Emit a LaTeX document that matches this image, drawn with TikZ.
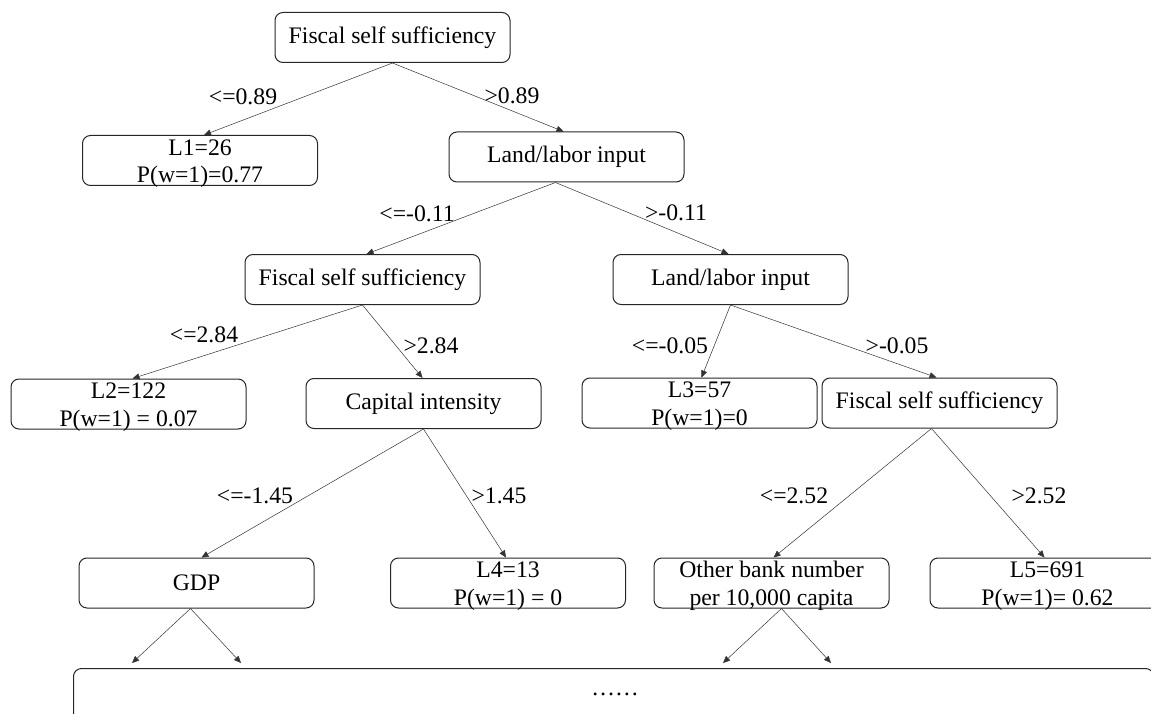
\documentclass[tikz,border=0pt]{standalone}
\usepackage{fontspec}
\setmainfont{Liberation Serif}
\usetikzlibrary{arrows.meta}

\begin{document}
\begin{tikzpicture}[
  x=1pt, y=-1pt,
  font=\fontsize{23.7pt}{28pt}\selectfont,
  >={Triangle[length=7pt,width=6pt]},
  split/.style={draw=black!85, line width=1pt, rounded corners=8pt, minimum width=235pt,
                minimum height=50pt, align=center, inner sep=0pt},
  twoline/.style={text height=47pt, text depth=2pt},
  leaf/.style={split, twoline},
  edge/.style={->, black!80, line width=0.5pt},
  cond/.style={inner sep=0pt},
]
\useasboundingbox (0,0) rectangle (1151,714);
\clip (0,0) rectangle (1151,714);
% split and leaf nodes
\node[split] (root) at (392.5,37.5) {Fiscal self sufficiency};
\node[leaf] (l1) at (200,160.5) {L1=26\\P(w=1)=0.77};
\node[split] (land1) at (566.5,157) {Land/labor input};
\node[split] (fis2) at (362.5,279.5) {Fiscal self sufficiency};
\node[split] (land2) at (730.5,279.5) {Land/labor input};
\node[leaf] (l2) at (128.5,404) {L2=122\\P(w=1) = 0.07};
\node[split] (cap) at (423.5,403.5) {Capital intensity};
\node[leaf] (l3) at (699.5,403) {L3=57\\P(w=1)=0};
\node[split] (fis3) at (939.5,403) {Fiscal self sufficiency};
\node[split] (gdp) at (196.5,583) {GDP};
\node[leaf] (l4) at (508,583) {L4=13\\P(w=1) = 0};
\node[split, twoline] (bank) at (771.5,583) {Other bank number\\per 10,000 capita};
\node[leaf] (l5) at (1047.5,583) {L5=691\\P(w=1)= 0.62};
% remaining subtrees
\node[draw=black!85, line width=1pt, rounded corners=8pt, minimum width=1080pt, minimum height=90pt,
      inner sep=0pt, anchor=north west] (rest) at (73,668) {};
\node[cond] (dots) at (615,694) {……};
\coordinate (r1) at (132,663);
\coordinate (r2) at (241,663);
\coordinate (r3) at (723,663);
\coordinate (r4) at (831,663);
% branches
\foreach \a/\da/\b/\db in {root/0/l1/4, root/0/land1/-3, land1/-11/fis2/4, land1/-11/land2/-2,
  fis2/0/l2/4, fis2/0/cap/-1, land2/0/l3/2, land2/0/fis3/-3,
  cap/0/gdp/5, cap/0/l4/-2, fis3/-8/bank/2, fis3/-8/l5/-3}
  \draw[edge] ([xshift=\da pt]\a.south) -- ([xshift=\db pt]\b.north);
\foreach \a/\da/\b in {gdp/-6/r1, gdp/-6/r2, bank/10/r3, bank/10/r4}
  \draw[edge] ([xshift=\da pt]\a.south) -- (\b);
% split conditions
\foreach \x/\y/\t in {243/97/{<=0.89}, 512/96/{>0.89}, 417/214/{<=-0.11}, 676/213/{>-0.11},
  204/335/{<=2.84}, 431/346/{>2.84}, 670/346/{<=-0.05}, 897/346/{>-0.05},
  255/496/{<=-1.45}, 499/496/{>1.45}, 794/496/{<=2.52}, 1039/496/{>2.52}}
  \node[cond] at (\x,\y) {\t};
\end{tikzpicture}
\end{document}
